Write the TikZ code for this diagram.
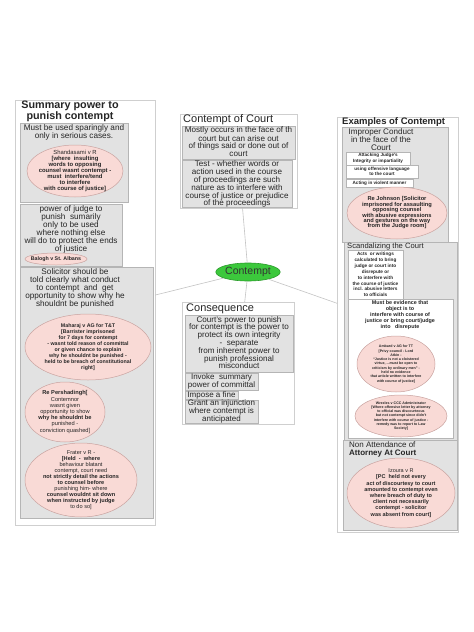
\documentclass[tikz,border=0pt]{standalone}
\usepackage{fontspec}
\setmainfont{Liberation Sans}
\usetikzlibrary{shapes.geometric}
\definecolor{gfill}{HTML}{E2E2E2}
\definecolor{gline}{HTML}{B5B5B5}
\definecolor{oline}{HTML}{CFCFCF}
\definecolor{efill}{HTML}{F9DAD6}
\definecolor{eline}{HTML}{C9A3A0}
\definecolor{cgreen}{HTML}{3CC83C}
\definecolor{cgreenb}{HTML}{2A9A2A}
\definecolor{conn}{HTML}{C4C4C4}
\newcommand\myfs[2]{\fontsize{#1}{#2}\selectfont}
\begin{document}
\begin{tikzpicture}[x=1pt,y=-1pt,
 box/.style={anchor=north west, inner sep=0, outer sep=0, line width=0.5pt},
 outerbox/.style={box, draw=oline, fill=white},
 graybox/.style={box, draw=gline, fill=gfill},
 whitebox/.style={box, draw=gline, fill=white},
 ell/.style={ellipse, draw=eline, fill=efill, inner sep=0, line width=0.5pt},
 txt/.style={inner sep=0, align=center, text=black!85},
 conline/.style={draw=conn, line width=0.6pt}]
\fill[white] (0,0) rectangle (474,632);
\useasboundingbox (0,0) rectangle (474,632);

% ---------- left panel ----------
\node[outerbox, minimum width=140, minimum height=425] (lp) at (15,100) {};
\node[txt, anchor=north, font=\bfseries\myfs{10.8}{10.5}] (lpt) at (70,101) {Summary power to\\punish contempt};
\node[graybox, minimum width=108, minimum height=79] (g1) at (20,123) {};
\node[txt, anchor=north, font=\myfs{8.2}{7.4}] (g1t) at (74,124) {Must be used sparingly and\\only in serious cases.};
\node[ell, minimum width=96, minimum height=52] (e1) at (75,171) {};
\node[txt, font=\myfs{5.9}{5.9}] (e1t) at (e1) {Shandasami v R\\{\bfseries [where\ \ insulting}\\{\bfseries words to opposing}\\{\bfseries counsel wasnt contempt -}\\{\bfseries must\ \ interfere/tend}\\{\bfseries to interfere}\\{\bfseries with course of justice]}};
\node[graybox, minimum width=102, minimum height=62] (g2) at (20,204) {};
\node[txt, anchor=north, font=\myfs{8.2}{8.1}] (g2t) at (71,205) {power of judge to\\punish\ \ sumarily\\only to be used\\where nothing else\\will do to protect the ends\\of justice};
\node[ell, minimum width=62, minimum height=12] (e2) at (56,259) {};
\node[txt, font=\bfseries\myfs{5.3}{5.3}] (e2t) at (e2) {Balogh v St. Albans};
\node[graybox, minimum width=133, minimum height=251] (g3) at (20,267) {};
\node[txt, anchor=north, font=\myfs{8.2}{8.0}] (g3t) at (75,268) {Solicitor should be\\told clearly what conduct\\to contempt\ \ and\ \ get\\opportunity to show why he\\shouldnt be punished};
\node[ell, minimum width=126, minimum height=66] (e3) at (88,347) {};
\node[txt, font=\bfseries\myfs{5.3}{5.9}] (e3t) at (e3) {Maharaj v AG for T\&T\\{[Barrister imprisoned}\\for 7 days for contempt\\- wasnt told reason of committal\\or given chance to explain\\why he shouldnt be punished -\\held to be breach of constitutional\\right]};
\node[ell, minimum width=80, minimum height=60] (e4) at (65,412) {};
\node[txt, font=\myfs{5.7}{6.2}] (e4t) at (e4) {{\bfseries Re Pershadingh[}\\Contemnor\\wasnt given\\opportunity to show\\{\bfseries why he shouldnt be}\\punished -\\conviction quashed]};
\node[ell, minimum width=112, minimum height=74] (e5) at (81,480) {};
\node[txt, font=\myfs{5.6}{6}] (e5t) at (e5) {Frater v R -\\{\bfseries [Held\ \ -\ \ where}\\behaviour blatant\\contempt, court need\\{\bfseries not strictly detail the actions}\\{\bfseries to counsel before}\\punishing him- where\\{\bfseries counsel wouldnt sit down}\\{\bfseries when instructed by judge}\\to do so]};

% ---------- middle ----------
\node[outerbox, minimum width=117, minimum height=94] (coc) at (180,114) {};
\node[txt, anchor=north west, font=\myfs{11}{11}] (coct) at (183,114.5) {Contempt of Court};
\node[graybox, minimum width=113, minimum height=33] (cg1) at (182,126) {};
\node[txt, anchor=north, font=\myfs{8.1}{7.3}] (cg1t) at (238.5,126.8) {Mostly occurs in the face of th\\court but can arise out\\of things said or done out of\\court};
\node[graybox, minimum width=110, minimum height=47] (cg2) at (182,160) {};
\node[txt, anchor=north, font=\myfs{8.1}{7.8}] (cg2t) at (237,160.8) {Test - whether words or\\action used in the course\\of proceedings are such\\nature as to interfere with\\course of justice or prejudice\\of the proceedings};

\node[ellipse, draw=cgreenb, fill=cgreen, minimum width=63, minimum height=18, inner sep=0, line width=0.6pt, font=\myfs{10.5}{10.5}, text=black!80] (c) at (248,272) {Contempt};

\node[outerbox, minimum width=112, minimum height=122] (cq) at (182,302) {};
\node[txt, anchor=north west, font=\myfs{11}{11}] (cqt) at (186,303.5) {Consequence};
\node[graybox, minimum width=108, minimum height=57] (qg1) at (185,315) {};
\node[txt, anchor=north, font=\myfs{8.1}{7.8}] (qg1t) at (239,316) {Court's power to punish\\for contempt is the power to\\protect its own integrity\\-\ \ separate\\from inherent power to\\punish professional\\misconduct};
\node[graybox, minimum width=73, minimum height=17] (qg2) at (185,373) {};
\node[txt, font=\myfs{8}{7.8}] (qg2t) at (qg2) {Invoke\ \ summary\\power of committal};
\node[graybox, minimum width=53, minimum height=8] (qg3) at (185,391) {};
\node[txt, font=\myfs{8}{7.8}] (qg3t) at (qg3) {Impose a fine};
\node[graybox, minimum width=73, minimum height=23] (qg4) at (185,400) {};
\node[txt, font=\myfs{8}{7.6}] (qg4t) at (qg4) {Grant an injunction\\where contempt is\\anticipated};

% ---------- right panel ----------
\node[outerbox, minimum width=121, minimum height=415] (rp) at (337,117) {};
\node[txt, anchor=north west, font=\bfseries\myfs{9.5}{9.5}] (rpt) at (342,117.5) {Examples of Contempt};
\node[graybox, minimum width=106, minimum height=115] (rg1) at (342,127) {};
\node[txt, anchor=north, font=\myfs{8.1}{8}] (rg1t) at (381,128) {Improper Conduct\\in the face of the\\Court};
\node[whitebox, minimum width=64, minimum height=13] (wb1) at (346,152) {};
\node[txt, font=\bfseries\myfs{4.6}{5.5}] (wb1t) at (wb1) {Attacking Judge's\\Integrity or impartiality};
\node[whitebox, minimum width=72, minimum height=13] (wb2) at (346,165) {};
\node[txt, font=\bfseries\myfs{4.6}{5.5}] (wb2t) at (wb2) {using offensive language\\to the court};
\node[whitebox, minimum width=67, minimum height=8] (wb3) at (346,179) {};
\node[txt, font=\bfseries\myfs{4.6}{5.5}] (wb3t) at (wb3) {Acting in violent manner};
\node[ell, minimum width=100, minimum height=52] (e6) at (397,213) {};
\node[txt, font=\bfseries\myfs{5.7}{5.4}] (e6t) at (e6) {Re Johnson [Solicitor\\imprisoned for assaulting\\opposing counsel\\with abusive expressions\\and gestures on the way\\from the Judge room]};

\node[graybox, minimum width=113, minimum height=198] (rg2) at (344,242) {};
\node[txt, anchor=north west, font=\myfs{7.6}{7.6}] (rg2t) at (347,242.5) {Scandalizing the Court};
\node[whitebox, minimum width=55, minimum height=49] (wb4) at (348,250) {};
\node[txt, font=\bfseries\myfs{4.7}{5.9}] (wb4t) at (wb4) {Acts\ \ or writings\\calculated to bring\\judge or court into\\disrepute or\\to interfere with\\the course of justice\\incl. abusive letters\\to officials};
\node[whitebox, minimum width=105, minimum height=139] (wb5) at (348,299) {};
\node[txt, anchor=north, font=\bfseries\myfs{5.4}{6}] (wb5t) at (400,300) {Must be evidence that\\object is to\\interfere with course of\\justice or bring court/judge\\into\ \ \ disrepute};
\node[ell, minimum width=78, minimum height=56] (e7) at (396,364) {};
\node[txt, font=\bfseries\myfs{3.6}{4.3}] (e7t) at (e7) {Ambard v AG for TT\\{[Privy council - Lord}\\Atkin -\\``Justice is not a cloistered\\virtue, ...must be open to\\criticism by ordinary men'' -\\held no evidence\\that article written to interfere\\with course of justice]};
\node[ell, minimum width=92, minimum height=42] (e8) at (401,416) {};
\node[txt, font=\bfseries\myfs{3.6}{4.3}] (e8t) at (e8) {Wrexles v CCC Administrator\\{[Where offensive letter by attorney}\\to official was discourteous\\but not contempt since didn't\\interfere with course of justice -\\remedy was to report to Law\\Society]};

\node[graybox, minimum width=114, minimum height=90] (rg3) at (343,440) {};
\node[txt, anchor=north west, align=left, font=\myfs{8}{8}] (rg3t) at (349,441) {Non Attendance of\\\bfseries Attorney At Court};
\node[ell, minimum width=108, minimum height=70] (e9) at (401,493) {};
\node[txt, font=\bfseries\myfs{5.5}{6.2}] (e9t) at (e9) {{\mdseries Izoura v R}\\{[PC\ \ held not every}\\act of discourtesy to court\\amounted to contempt even\\where breach of duty to\\client not necessarily\\contempt - solicitor\\was absent from court]};

% ---------- connectors ----------
\draw[conline] (c) -- (coc);
\draw[conline] (c) -- (cq);
\draw[conline] (c) -- (lp);
\draw[conline] (c) -- (rp);
\end{tikzpicture}
\end{document}
